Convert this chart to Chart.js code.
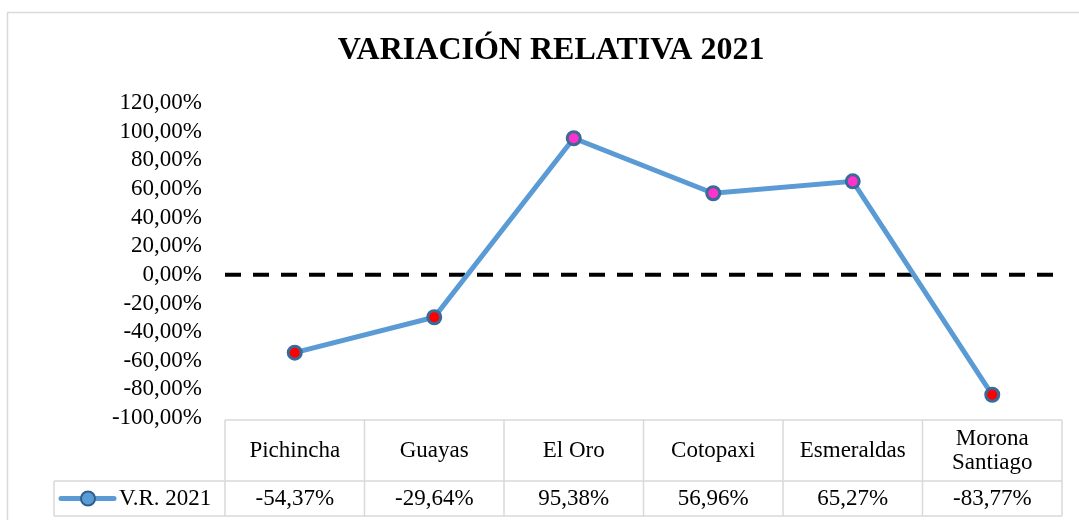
<!DOCTYPE html>
<html>
<head>
<meta charset="utf-8">
<script src="https://cdn.jsdelivr.net/npm/chart.js@4/dist/chart.umd.min.js"></script>
<style>
  body { margin: 0; background: #fff; }
  #wrap { width: 1079px; height: 520px; }
</style>
</head>
<body>
<div id="wrap"><canvas id="myChart"></canvas></div>
<script>
'use strict';

let titleText = 'VARIACIÓN RELATIVA 2021';
let categories = ['Pichincha', 'Guayas', 'El Oro', 'Cotopaxi', 'Esmeraldas', ['Morona', 'Santiago']];
let seriesName = 'V.R. 2021';
let seriesValues = [-54.37, -29.64, 95.38, 56.96, 65.27, -83.77];
let yMin = -100;
let yMax = 120;
let yStep = 20;

let serif = '"Liberation Serif", "Times New Roman", serif';

function fmtPct(v) {
    return v.toFixed(2).replace('.', ',') + '%';
}

// frame, title, zero line and the data table under the plot
let tablePlugin = {
    id: 'tablePlugin',
    beforeDraw(chart) {
        let ctx = chart.ctx;
        ctx.save();
        ctx.fillStyle = '#fff';
        ctx.fillRect(0, 0, chart.width, chart.height);
        ctx.strokeStyle = '#d9d9d9';
        ctx.lineWidth = 1.5;
        ctx.strokeRect(7.5, 12.5, chart.width + 20, chart.height + 20);

        ctx.fillStyle = '#000';
        ctx.font = 'bold 32px ' + serif;
        ctx.textAlign = 'center';
        ctx.textBaseline = 'middle';
        ctx.fillText(titleText, 551, 51);
        ctx.restore();
    },
    beforeDatasetsDraw(chart) {
        let ctx = chart.ctx;
        let area = chart.chartArea;
        let y0 = chart.scales.y.getPixelForValue(0);
        ctx.save();
        ctx.strokeStyle = '#000';
        ctx.lineWidth = 4;
        ctx.setLineDash([16, 12]);
        ctx.beginPath();
        ctx.moveTo(area.left, y0);
        ctx.lineTo(area.right - 6, y0);
        ctx.stroke();
        ctx.restore();
    },
    afterDraw(chart) {
        let ctx = chart.ctx;
        let area = chart.chartArea;
        let xs = chart.scales.x;
        let n = categories.length;
        let colW = (area.right - area.left) / n;
        let top = area.bottom + 2;
        let mid = top + 61;
        let bot = mid + 35;
        let legLeft = 54;

        ctx.save();
        ctx.strokeStyle = '#d9d9d9';
        ctx.lineWidth = 1.5;
        ctx.beginPath();
        ctx.moveTo(area.left, top); ctx.lineTo(area.right, top);
        ctx.moveTo(legLeft, mid); ctx.lineTo(area.right, mid);
        ctx.moveTo(legLeft, bot); ctx.lineTo(area.right, bot);
        for (let i = 0; i <= n; i++) {
            let x = area.left + i * colW;
            ctx.moveTo(x, top); ctx.lineTo(x, bot);
        }
        ctx.moveTo(legLeft, mid); ctx.lineTo(legLeft, bot);
        ctx.stroke();

        ctx.fillStyle = '#000';
        ctx.font = '23px ' + serif;
        ctx.textAlign = 'center';
        ctx.textBaseline = 'middle';
        for (let i = 0; i < n; i++) {
            let x = xs.getPixelForValue(i);
            let lab = categories[i];
            if (Array.isArray(lab)) {
                ctx.fillText(lab[0], x, (top + mid) / 2 - 12);
                ctx.fillText(lab[1], x, (top + mid) / 2 + 12);
            } else {
                ctx.fillText(lab, x, (top + mid) / 2);
            }
            ctx.fillText(fmtPct(seriesValues[i]), x, (mid + bot) / 2);
        }

        // legend key
        let ly = (mid + bot) / 2;
        ctx.strokeStyle = '#5b9bd5';
        ctx.lineWidth = 5;
        ctx.lineCap = 'round';
        ctx.beginPath();
        ctx.moveTo(61, ly); ctx.lineTo(114, ly);
        ctx.stroke();
        ctx.beginPath();
        ctx.arc(88, ly, 7, 0, Math.PI * 2);
        ctx.fillStyle = '#5b9bd5';
        ctx.fill();
        ctx.lineWidth = 2;
        ctx.strokeStyle = '#2e5f8e';
        ctx.stroke();
        ctx.fillStyle = '#000';
        ctx.textAlign = 'left';
        ctx.fillText(seriesName, 119, ly);
        ctx.restore();
    }
};

let ctx = document.getElementById('myChart').getContext('2d');
let myChart = new Chart(ctx, {
    type: 'line',
    data: {
        labels: categories,
        datasets: [{
            label: seriesName,
            data: seriesValues,
            borderColor: '#5b9bd5',
            borderWidth: 5,
            tension: 0,
            pointRadius: 6.5,
            pointBorderWidth: 3,
            pointBorderColor: '#3a6a98',
            pointBackgroundColor: (c) => c.raw < 0 ? '#ff0000' : '#ff33cc'
        }]
    },
    options: {
        responsive: true,
        maintainAspectRatio: false,
        animation: false,
        layout: { padding: { left: 0, right: 17, top: 103, bottom: 102 } },
        plugins: {
            legend: { display: false },
            tooltip: { enabled: false },
            title: { display: false }
        },
        scales: {
            x: {
                offset: true,
                grid: { display: false, drawTicks: false },
                border: { display: false },
                ticks: { display: false }
            },
            y: {
                min: yMin,
                max: yMax,
                grid: { display: false, drawTicks: false },
                border: { display: false },
                ticks: {
                    stepSize: yStep,
                    autoSkip: false,
                    padding: 23,
                    color: '#000',
                    font: { family: serif, size: 23, lineHeight: 1 },
                    callback: (v) => fmtPct(v)
                },
                afterFit(scale) { scale.width = 225; }
            }
        }
    },
    plugins: [tablePlugin]
});
</script>
</body>
</html>
